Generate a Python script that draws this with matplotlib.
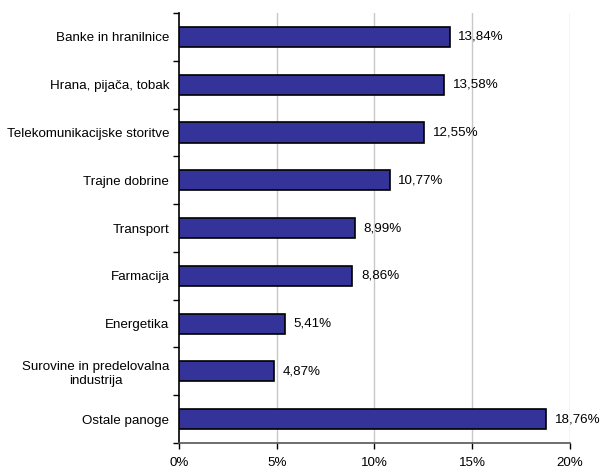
import matplotlib
matplotlib.use("Agg")
import matplotlib.pyplot as plt
import numpy as np

categories = ["Banke in hranilnice", "Hrana, pijača, tobak", "Telekomunikacijske storitve",
              "Trajne dobrine", "Transport", "Farmacija", "Energetika",
              "Surovine in predelovalna\nindustrija", "Ostale panoge"]
values = [13.84, 13.58, 12.55, 10.77, 8.99, 8.86, 5.41, 4.87, 18.76]
xticks = [0, 5, 10, 15, 20]

plt.rcParams['font.family'] = ['Liberation Sans', 'DejaVu Sans']
fig = plt.figure(figsize=(6, 4.68), dpi=100)
ax = fig.add_axes([0.2983, 0.0534, 0.6517, 0.9186])

n = len(categories)
y = np.arange(n)
ax.barh(y, values, height=0.42, color='#333399', edgecolor='black', linewidth=1.2, zorder=3)
for yi, v in zip(y, values):
    ax.text(v + 0.45, yi, f"{v:.2f}".replace('.', ',') + "%", va='center', ha='left', fontsize=9.6)

ax.set_ylim(n - 0.5, -0.5)
ax.set_xlim(0, 20)
ax.set_yticks(y)
ax.set_yticklabels(categories, fontsize=9.6, multialignment='center')
ax.tick_params(axis='y', length=0, pad=7)
ax.set_yticks(np.arange(-0.5, n, 1), minor=True)
ax.tick_params(axis='y', which='minor', length=4, width=1, direction='out')
ax.set_xticks(xticks)
ax.set_xticklabels([f"{t}%" for t in xticks], fontsize=9.6)
ax.tick_params(axis='x', length=4, width=1, direction='out', pad=6)

for t in xticks[1:]:
    ax.axvline(t, color='#c8c8c8', linewidth=1, zorder=1)

for s in ['top', 'right']:
    ax.spines[s].set_visible(False)
ax.spines['left'].set_linewidth(1.2)
ax.spines['bottom'].set_linewidth(1.2)
ax.spines['bottom'].set_color('#555555')

fig.savefig("out.png", dpi=100)
